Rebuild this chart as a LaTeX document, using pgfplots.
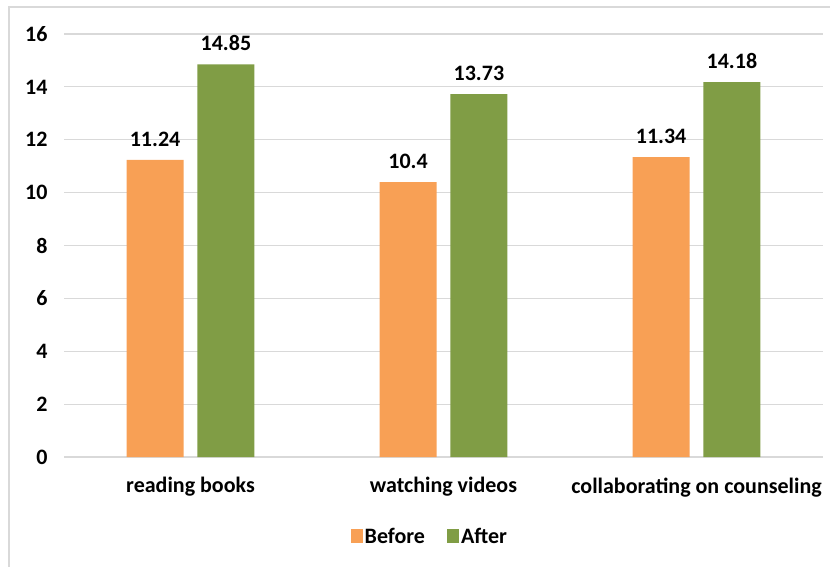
\documentclass[border=0pt]{standalone}
\usepackage{pgfplots}
\pgfplotsset{compat=1.18}
\usepackage{fontspec}
\setmainfont{Carlito}
\definecolor{cOr}{HTML}{F8A055}
\definecolor{cGr}{HTML}{809D45}
\definecolor{grd}{HTML}{D9D9D9}
\begin{document}
\begin{tikzpicture}[x=1pt,y=1pt]
\useasboundingbox (0,0) rectangle (830,566);
\draw[grd, line width=1.8pt] (9,-20) rectangle (850,559);
\begin{axis}[
  at={(64pt,109pt)}, anchor=south west,
  scale only axis, width=759pt, height=423pt,
  xmin=-0.5, xmax=2.5, ymin=0, ymax=16,
  ytick={0,2,...,16},
  xtick={0,1,2},
  xticklabels={reading books, watching videos, collaborating on counseling},
  axis line style={draw=none},
  ymajorgrids, grid style={grd, line width=1.2pt},
  major tick length=0pt,
  /pgf/number format/assume math mode=true,
  ticklabel style={font=\bfseries\fontsize{22}{23}\selectfont},
  yticklabel style={xshift=-13pt},
  xticklabel style={yshift=-17pt},
  ybar, bar width=0.225,
  nodes near coords,
  every node near coord/.append style={font=\bfseries\fontsize{22}{23}\selectfont, yshift=10pt, text=black},
  legend columns=2,
  legend style={at={(0.482,-0.189)}, anchor=center, draw=none, fill=none,
    font=\bfseries\fontsize{22}{23}\selectfont,
    /tikz/every even column/.append style={column sep=20pt}},
  legend image code/.code={\fill[#1] (-4pt,-6pt) rectangle (8pt,8pt);},
]
\addplot[fill=cOr, draw=none, bar shift=-0.14] coordinates {(0,11.24) (1,10.4) (2,11.34)};
\addplot[fill=cGr, draw=none, bar shift=0.14] coordinates {(0,14.85) (1,13.73) (2,14.18)};
\legend{Before, After}
\end{axis}
\end{tikzpicture}
\end{document}
